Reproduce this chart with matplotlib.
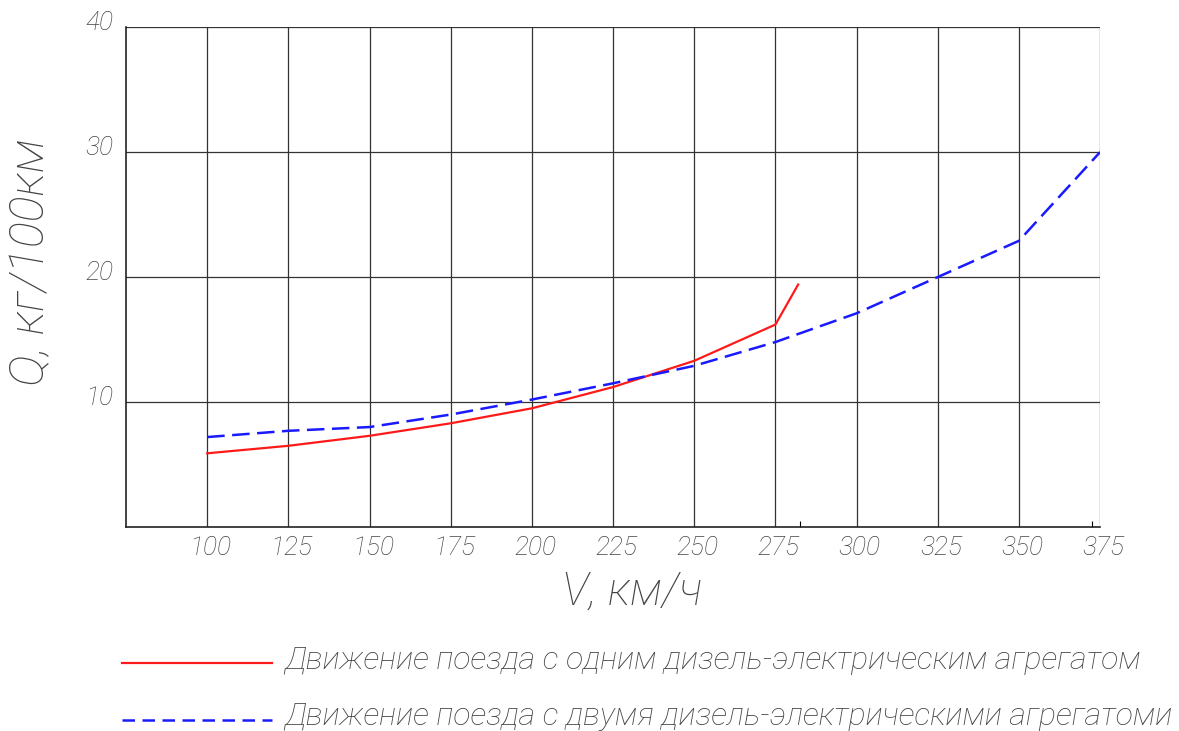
import matplotlib.pyplot as plt
from matplotlib.lines import Line2D

# Data
speed_one = [100, 125, 150, 175, 200, 225, 250, 275, 282]
fuel_one = [5.9, 6.5, 7.3, 8.3, 9.5, 11.2, 13.3, 16.2, 19.4]

speed_two = [100, 125, 150, 175, 200, 225, 250, 275, 300, 325, 350, 375]
fuel_two = [7.2, 7.7, 8.0, 9.0, 10.2, 11.5, 12.9, 14.8, 17.1, 20.0, 22.9, 30.0]

x_ticks = [100, 125, 150, 175, 200, 225, 250, 275, 300, 325, 350, 375]
y_ticks = [10, 20, 30, 40]

label_one = 'Движение поезда с одним дизель-электрическим агрегатом'
label_two = 'Движение поезда с двумя дизель-электрическими агрегатоми'

text_color = '#444444'
font = dict(family='Roboto', weight='light', style='italic', color=text_color)


def main():
    fig = plt.figure(figsize=(11.79, 7.31), dpi=100)
    ax = fig.add_axes([0.1069, 0.279, 0.8262, 0.684])

    ax.plot(speed_one, fuel_one, color='#ff1a1a', lw=1.6)
    ax.plot(speed_two, fuel_two, color='#1a1aff', lw=1.8, ls=(0, (7, 3)))

    ax.set_xlim(75, 375)
    ax.set_ylim(0, 40)
    ax.set_xticks(x_ticks)
    ax.set_yticks(y_ticks)
    ax.set_xticklabels([])
    ax.set_yticklabels([])
    ax.set_xticks([282.5, 372.5], minor=True)
    ax.tick_params(which='major', length=0)
    ax.tick_params(which='minor', axis='x', direction='in', length=4, width=0.8)
    ax.grid(True, color='#333333', lw=0.9)

    for side in ['top', 'right']:
        ax.spines[side].set_visible(False)
    for side in ['left', 'bottom']:
        ax.spines[side].set_color('#222222')
        ax.spines[side].set_linewidth(1.2)

    # tick labels in the drafting style
    for x in x_ticks:
        ax.text(x + 1, -0.7, str(x), ha='center', va='top', fontsize=19, **font)
    for y in y_ticks:
        ax.text(71, y + 0.3, str(y), ha='right', va='center', fontsize=19, **font)

    ax.text(0.52, -0.085, 'V, км/ч', transform=ax.transAxes, ha='center', va='top',
            fontsize=33, **font)
    ax.text(-0.098, 0.53, 'Q, кг/100км', transform=ax.transAxes, ha='center', va='center',
            rotation=90, fontsize=35, **font)

    # legend drawn under the plot
    fig.add_artist(Line2D([0.1035, 0.2307], [0.093, 0.093], color='#ff1a1a', lw=1.6))
    fig.add_artist(Line2D([0.1035, 0.2307], [0.015, 0.015], color='#1a1aff', lw=1.8,
                          ls=(0, (5, 3))))
    fig.text(0.241, 0.085, label_one, ha='left', va='baseline', fontsize=23, **font)
    fig.text(0.241, 0.008, label_two, ha='left', va='baseline', fontsize=23, **font)

    fig.savefig('out.png', dpi=100)


if __name__ == '__main__':
    main()
